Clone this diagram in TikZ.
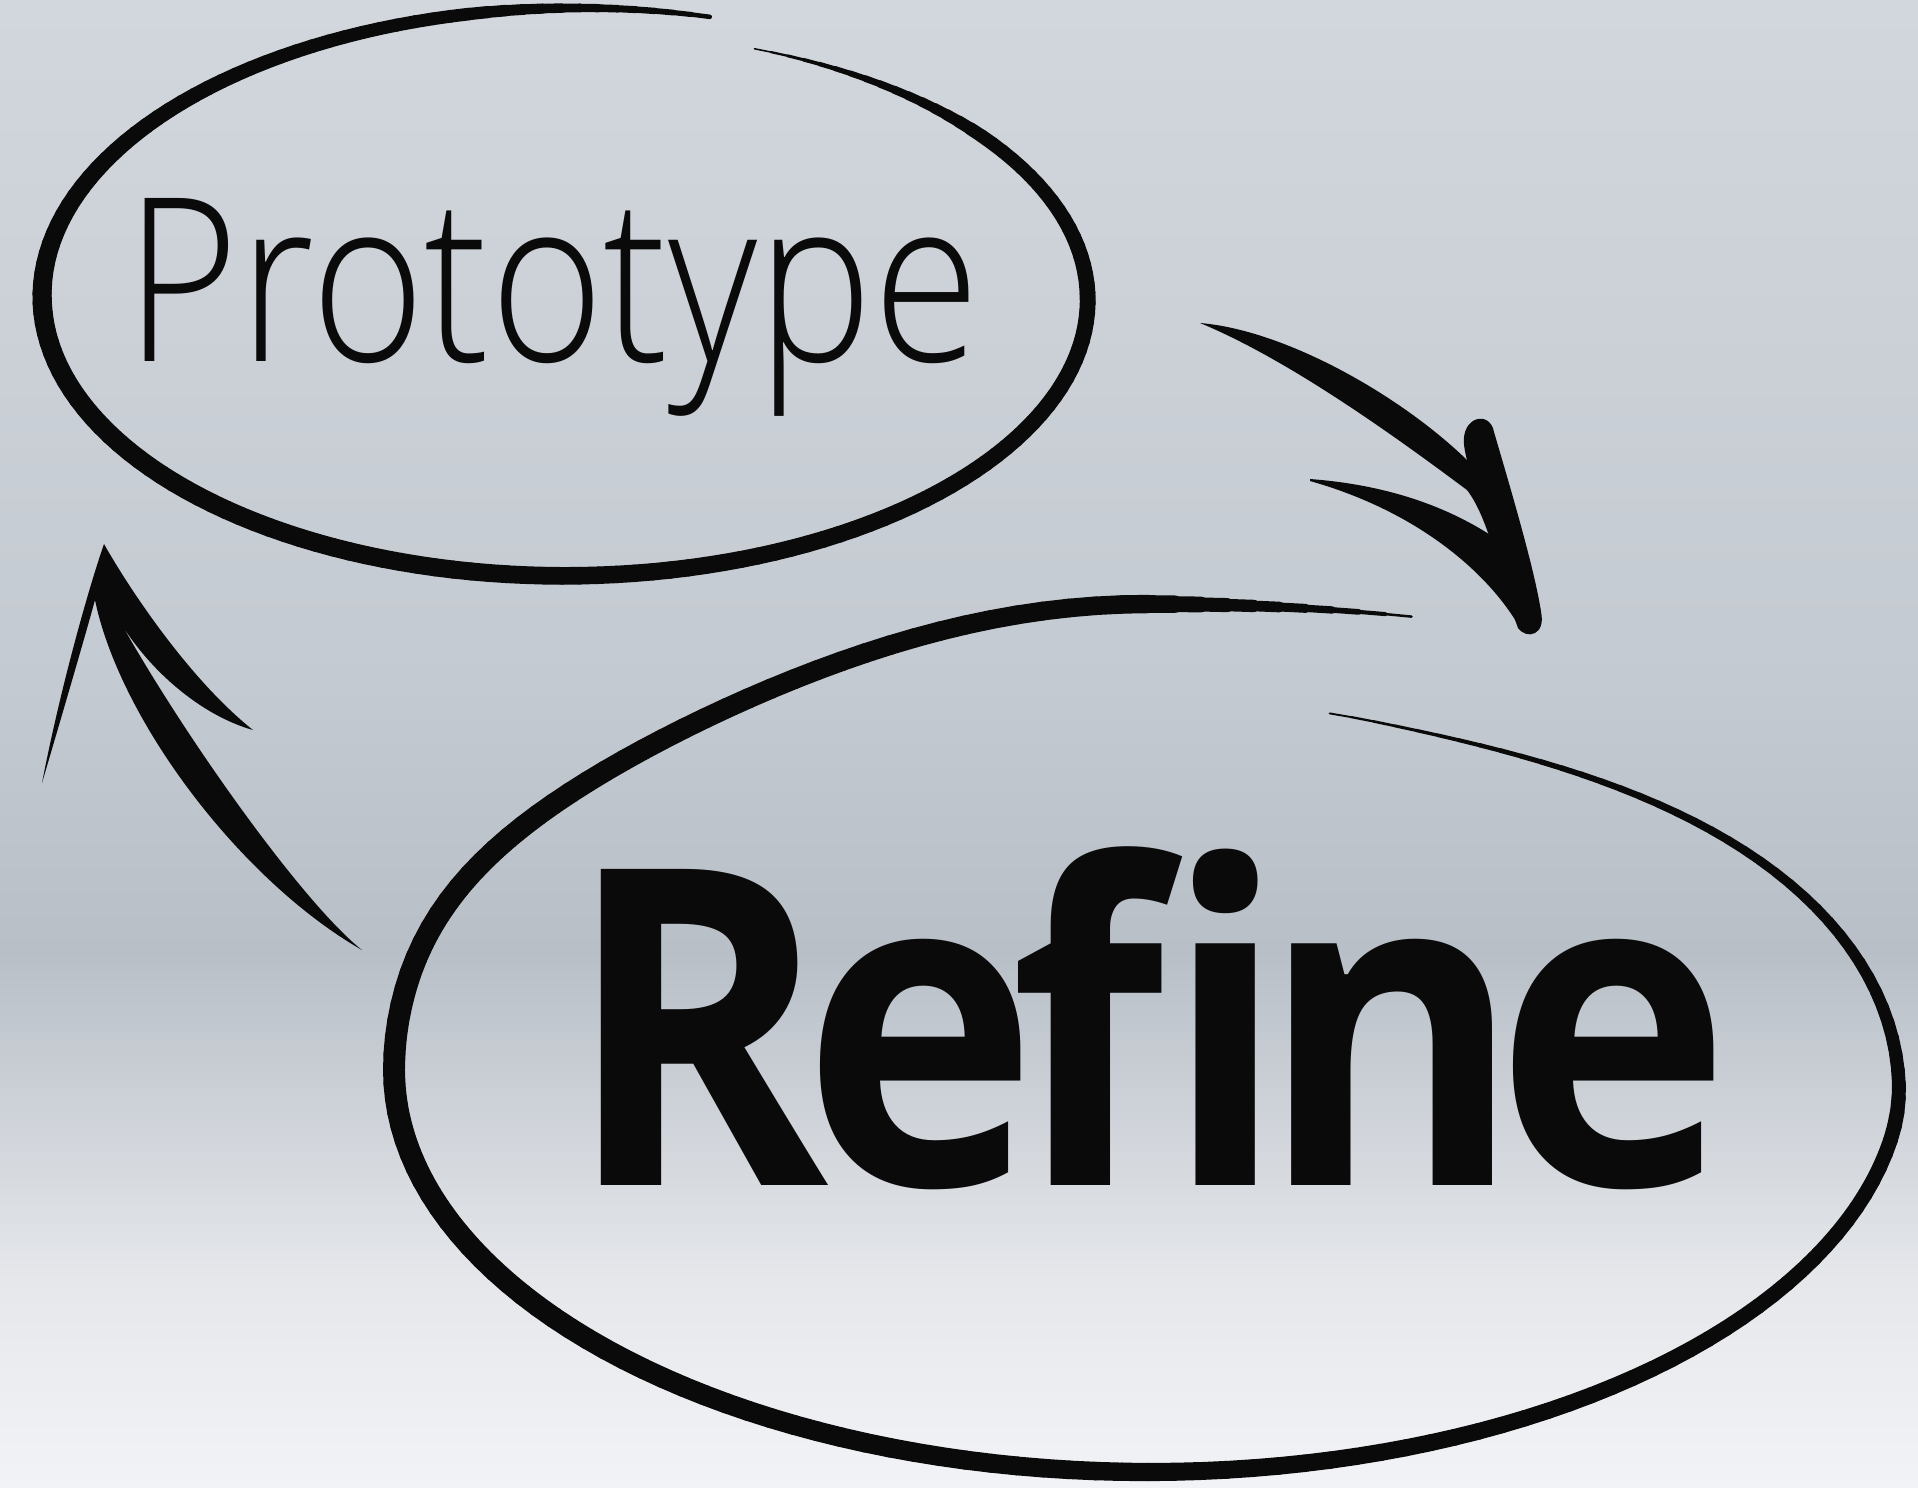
\documentclass[tikz,border=0pt]{standalone}
\usepackage{fontspec}
\setmainfont{Open Sans}
\IfFontExistsTF{Open Sans Light}
  {\newfontfamily\protofont{Open Sans Light}[FakeStretch=0.85]}
  {\newfontfamily\protofont{Open Sans}[FakeStretch=0.85]}
\newfontfamily\refinefont{Open Sans}[FakeStretch=0.90, LetterSpace=-6]

\definecolor{ink}{HTML}{0A0A0A}
\definecolor{bgtop}{RGB}{210,215,221}
\definecolor{bgmid}{RGB}{196,202,209}
\definecolor{bgdark}{RGB}{184,191,199}
\definecolor{bglow}{RGB}{229,231,235}
\definecolor{bgbot}{RGB}{242,243,246}
\pgfdeclareverticalshading{paper}{100bp}{color(0bp)=(bgbot); color(25bp)=(bgbot);
  color(32bp)=(bglow); color(43bp)=(bgdark); color(52bp)=(bgmid);
  color(75bp)=(bgtop); color(100bp)=(bgtop)}

\begin{document}
\begin{tikzpicture}[x=0.1mm, y=-0.1mm]
  % Define styles
  \tikzstyle{ring} = [draw=ink, line cap=round]
  \tikzstyle{stroke} = [fill=ink, draw=none]
  \tikzstyle{light} = [inner sep=0pt, anchor=base, text=ink,
                       font=\protofont\fontsize{65}{78}\selectfont]
  \tikzstyle{heavy} = [inner sep=0pt, anchor=base, text=ink,
                       font=\refinefont\bfseries\fontsize{126}{150}\selectfont]

  % Background
  \useasboundingbox (0,0) rectangle (1918,1487);
  \fill[shading=paper] (0,0) rectangle (1918,1487);

  % Nodes
  \node (proto) [light] at (553,361) {Prototype};
  \node (refine) [heavy] at (1148,1185) {Refine};

  % Ring round Prototype: one stroke, slowly widening spiral
  \coordinate (pring) at ({571+512*cos(69)},{298-267*sin(69)});
  \foreach \ang in {67,65,...,-285}{
    \pgfmathsetmacro\off{0.068*(69-\ang)}
    \pgfmathsetmacro\px{571+(512+\off)*cos(\ang)}
    \pgfmathsetmacro\py{298-(267+\off)*sin(\ang)}
    \pgfmathsetmacro\ww{5.0*(1-0.1*cos(\ang))*(1-0.3*max(0,sin(\ang)))
      *min(1,(68-\ang)/35+0.1,(\ang+286)/40+0.35)}
    \draw[ring, line width=\ww pt] (pring) -- (\px,\py) coordinate (pring);
  }

  % Ring round Refine: egg shaped, curls inward at its end
  \coordinate (rring) at ({1148+770.5*cos(70)},{1070-482.5*sin(70)});
  \foreach \ang in {72,74,...,434}{
    \pgfmathsetmacro\tcurl{min(1,max(0,(\ang-350)/80))}
    \pgfmathsetmacro\tlead{max(0,1-(\ang-68)/22)}
    \pgfmathsetmacro\sd{(\ang>90)*(\ang<170)*sin(2.25*(\ang-90))}
    \pgfmathsetmacro\sn{sin(\ang)}
    \pgfmathsetmacro\cn{cos(\ang)}
    \pgfmathsetmacro\rad{20*\tlead*\tlead-95*(3*\tcurl*\tcurl-2*\tcurl*\tcurl*\tcurl)}
    \pgfmathsetmacro\hh{\sn>0 ? (466+\rad)*\sn : (402+\rad)*\sn}
    \pgfmathsetmacro\px{1148+(754+\rad)*\cn}
    \pgfmathsetmacro\py{1070-\hh+26*\sd*\sd}
    \pgfmathsetmacro\ww{5.2*(1-0.2*\cn)*min(1,(\ang-71)/22+0.1,(435-\ang)/90+0.1)}
    \draw[ring, line width=\ww pt] (rring) -- (\px,\py) coordinate (rring);
  }

  % Arrows
  \coordinate (fwdstart) at (1200,323);
  \coordinate (fwdtip) at (1541,612);
  \coordinate (backstart) at (362,950);
  \coordinate (backtip) at (104,544);

  % Prototype -> Refine: shaft, upper barb, lower barb
  \fill[stroke] (fwdstart) .. controls (1285,330) and (1400,395) .. (1467,460)
    .. controls (1495,490) and (1530,560) .. (fwdtip)
    .. controls (1546,635) and (1527,640) .. (1518,628)
    .. controls (1500,580) and (1490,520) .. (1467,490)
    .. controls (1400,440) and (1290,360) .. (fwdstart) -- cycle;
  \fill[stroke] (1464,445) .. controls (1461,416) and (1490,410) .. (1494,432)
    .. controls (1508,480) and (1535,570) .. (fwdtip)
    -- (1505,560) .. controls (1485,510) and (1468,475) .. (1464,445) -- cycle;
  \fill[stroke] (1310,479) .. controls (1390,485) and (1450,508) .. (1495,538)
    -- (1532,605) -- (1520,628) .. controls (1490,575) and (1420,512) .. (1310,481)
    -- cycle;

  % Refine -> Prototype
  \fill[stroke] (backtip) .. controls (88,590) and (60,690) .. (42,783)
    .. controls (62,715) and (84,640) .. (95,600)
    .. controls (120,720) and (240,880) .. (backstart)
    .. controls (305,905) and (190,745) .. (122,625)
    .. controls (150,670) and (200,715) .. (253,730)
    .. controls (190,680) and (130,590) .. (backtip) -- cycle;
\end{tikzpicture}
\end{document}
